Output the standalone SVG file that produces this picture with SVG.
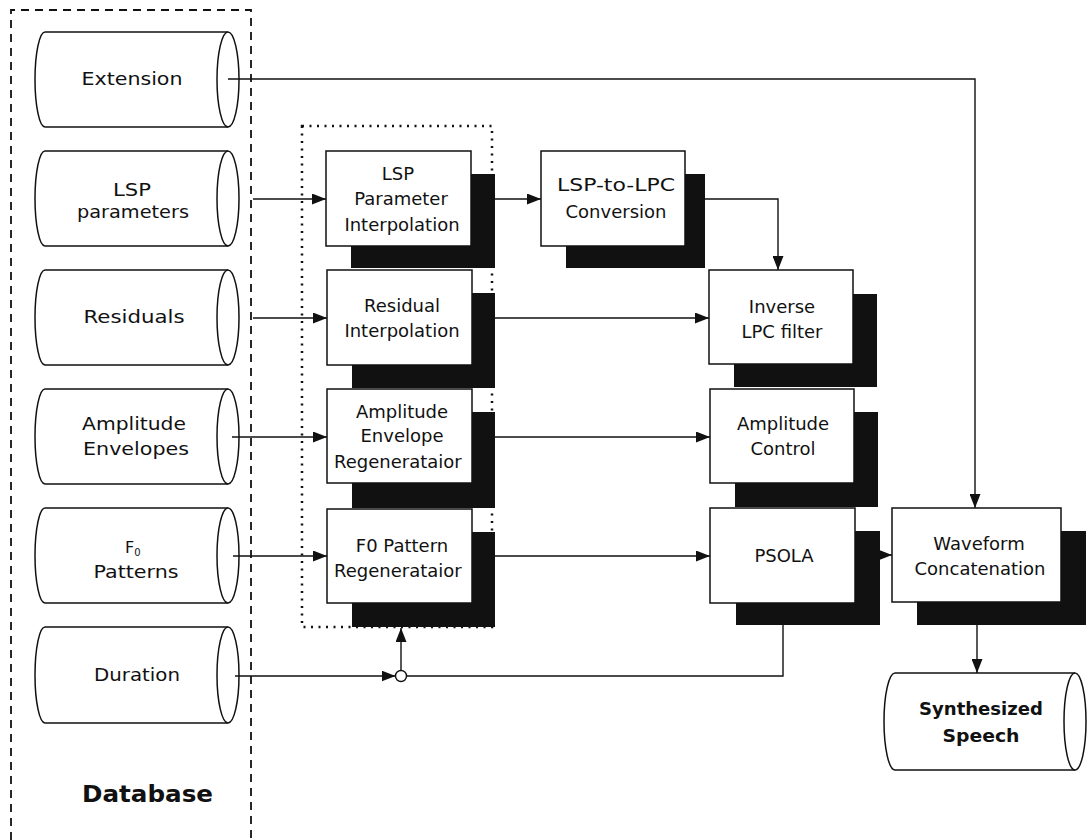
<svg xmlns="http://www.w3.org/2000/svg" width="1089" height="840" viewBox="0 0 1089 840">
  <style>
    .cyl { fill: #fff; stroke: #111; stroke-width: 1.5; }
    .box { fill: #fff; stroke: #111; stroke-width: 1.5; }
    .shadow { fill: #111; }
    .lbl { font-family: "DejaVu Sans", "Liberation Sans", sans-serif; font-size: 18px; fill: #111; }
    .blbl { font-family: "DejaVu Sans", "Liberation Sans", sans-serif; font-size: 17px; font-weight: bold; fill: #111; }
    .mid { text-anchor: middle; }
    .edge { fill: none; stroke: #111; stroke-width: 1.4; }
    .grp-db { fill: none; stroke: #111; stroke-width: 1.8; stroke-dasharray: 8 6; }
    .grp-proc { fill: none; stroke: #111; stroke-width: 2.5; stroke-dasharray: 2 5.5; }
  </style>
  <defs>
    <marker id="arrow" viewBox="0 0 14 11" refX="14" refY="5.5" markerWidth="14" markerHeight="11" markerUnits="userSpaceOnUse" orient="auto">
      <path d="M0,0 L14,5.5 L0,11 Z" fill="#111"/>
    </marker>
  </defs>
  <rect width="1089" height="840" fill="#fff"/>

  <!-- grouping frames -->
  <g id="database-frame">
    <path class="grp-db" d="M11,840 V10 H251 V840"/>
    <text class="lbl" x="82" y="802" style="font-size:23px;font-weight:bold" textLength="131" lengthAdjust="spacingAndGlyphs">Database</text>
  </g>
  <rect id="processing-frame" class="grp-proc" x="302" y="126" width="190" height="501"/>

  <!-- database cylinders -->
  <g id="db-extension">
    <path class="cyl" d="M45,32 H228 A11,47.5 0 0 1 228,127 H45 A10,47.5 0 0 1 45,32 Z"/>
    <path class="cyl" d="M228,32 A11,47.5 0 0 0 228,127"/>
    <text class="lbl mid" x="132" y="85" textLength="101" lengthAdjust="spacingAndGlyphs">Extension</text>
  </g>
  <g id="db-lsp">
    <path class="cyl" d="M45,151 H228 A11,47.5 0 0 1 228,246 H45 A10,47.5 0 0 1 45,151 Z"/>
    <path class="cyl" d="M228,151 A11,47.5 0 0 0 228,246"/>
    <text class="lbl mid" x="132" y="196" textLength="38" lengthAdjust="spacingAndGlyphs">LSP</text>
    <text class="lbl mid" x="133" y="218" textLength="112" lengthAdjust="spacingAndGlyphs">parameters</text>
  </g>
  <g id="db-residuals">
    <path class="cyl" d="M45,270 H228 A11,47.5 0 0 1 228,365 H45 A10,47.5 0 0 1 45,270 Z"/>
    <path class="cyl" d="M228,270 A11,47.5 0 0 0 228,365"/>
    <text class="lbl mid" x="134" y="323" textLength="101" lengthAdjust="spacingAndGlyphs">Residuals</text>
  </g>
  <g id="db-amplitude">
    <path class="cyl" d="M45,389 H228 A11,47.5 0 0 1 228,484 H45 A10,47.5 0 0 1 45,389 Z"/>
    <path class="cyl" d="M228,389 A11,47.5 0 0 0 228,484"/>
    <text class="lbl mid" x="134" y="430" textLength="104" lengthAdjust="spacingAndGlyphs">Amplitude</text>
    <text class="lbl mid" x="136" y="455" textLength="106" lengthAdjust="spacingAndGlyphs">Envelopes</text>
  </g>
  <g id="db-f0">
    <path class="cyl" d="M45,508 H228 A11,47.5 0 0 1 228,603 H45 A10,47.5 0 0 1 45,508 Z"/>
    <path class="cyl" d="M228,508 A11,47.5 0 0 0 228,603"/>
    <text class="lbl" x="125" y="553" style="font-size:16px">F<tspan dy="3" style="font-size:10px">0</tspan></text>
    <text class="lbl mid" x="136" y="578" textLength="85" lengthAdjust="spacingAndGlyphs">Patterns</text>
  </g>
  <g id="db-duration">
    <path class="cyl" d="M45,627 H228 A11,48 0 0 1 228,723 H45 A10,48 0 0 1 45,627 Z"/>
    <path class="cyl" d="M228,627 A11,48 0 0 0 228,723"/>
    <text class="lbl mid" x="137" y="681" textLength="86" lengthAdjust="spacingAndGlyphs">Duration</text>
  </g>

  <!-- processing blocks: shadow first, then the block -->
  <g id="lsp-interp">
    <rect class="shadow" x="351" y="174" width="144" height="94"/>
    <rect class="box" x="326" y="151" width="145" height="95"/>
    <text class="lbl mid" x="398" y="180">LSP</text>
    <text class="lbl mid" x="401" y="205">Parameter</text>
    <text class="lbl mid" x="402" y="231">Interpolation</text>
  </g>
  <g id="residual-interp">
    <rect class="shadow" x="352" y="293" width="143" height="95"/>
    <rect class="box" x="327" y="270" width="145" height="95"/>
    <text class="lbl mid" x="402" y="312">Residual</text>
    <text class="lbl mid" x="402" y="337">Interpolation</text>
  </g>
  <g id="amp-regen">
    <rect class="shadow" x="352" y="412" width="143" height="96"/>
    <rect class="box" x="327" y="389" width="145" height="94"/>
    <text class="lbl mid" x="402" y="418">Amplitude</text>
    <text class="lbl mid" x="402" y="442">Envelope</text>
    <text class="lbl" x="334" y="468">Regenerataior</text>
  </g>
  <g id="f0-regen">
    <rect class="shadow" x="352" y="532" width="143" height="95"/>
    <rect class="box" x="327" y="509" width="145" height="94"/>
    <text class="lbl mid" x="402" y="552">F0 Pattern</text>
    <text class="lbl" x="334" y="577">Regenerataior</text>
  </g>
  <g id="lsp-to-lpc">
    <rect class="shadow" x="566" y="174" width="139" height="94"/>
    <rect class="box" x="541" y="151" width="144" height="95"/>
    <text class="lbl mid" x="616" y="191" textLength="118" lengthAdjust="spacingAndGlyphs">LSP-to-LPC</text>
    <text class="lbl mid" x="616" y="218">Conversion</text>
  </g>
  <g id="inverse-lpc">
    <rect class="shadow" x="734" y="294" width="143" height="93"/>
    <rect class="box" x="709" y="270" width="144" height="94"/>
    <text class="lbl mid" x="782" y="313">Inverse</text>
    <text class="lbl mid" x="782" y="338">LPC filter</text>
  </g>
  <g id="amp-control">
    <rect class="shadow" x="735" y="412" width="143" height="95"/>
    <rect class="box" x="710" y="389" width="144" height="94"/>
    <text class="lbl mid" x="783" y="430">Amplitude</text>
    <text class="lbl mid" x="783" y="455">Control</text>
  </g>
  <g id="psola">
    <rect class="shadow" x="736" y="531" width="144" height="94"/>
    <rect class="box" x="710" y="508" width="145" height="95"/>
    <text class="lbl mid" x="784" y="562">PSOLA</text>
  </g>
  <g id="waveform-concat">
    <rect class="shadow" x="917" y="531" width="169" height="94"/>
    <rect class="box" x="892" y="508" width="169" height="94"/>
    <text class="lbl mid" x="979" y="550">Waveform</text>
    <text class="lbl mid" x="980" y="575">Concatenation</text>
  </g>
  <g id="synth-speech">
    <path class="cyl" d="M895,673 H1075 A11,48.5 0 0 1 1075,770 H895 A11,48.5 0 0 1 895,673 Z"/>
    <path class="cyl" d="M1075,673 A11,48.5 0 0 0 1075,770"/>
    <text class="blbl mid" x="981" y="715" textLength="124" lengthAdjust="spacingAndGlyphs">Synthesized</text>
    <text class="blbl mid" x="981" y="742" textLength="77" lengthAdjust="spacingAndGlyphs">Speech</text>
  </g>

  <!-- connectors -->
  <g id="connectors">
    <path class="edge" d="M228,79 H975 V508" marker-end="url(#arrow)"/>
    <path class="edge" d="M253,199 H326" marker-end="url(#arrow)"/>
    <path class="edge" d="M253,318 H327" marker-end="url(#arrow)"/>
    <path class="edge" d="M232,437 H327" marker-end="url(#arrow)"/>
    <path class="edge" d="M233,556 H327" marker-end="url(#arrow)"/>
    <path class="edge" d="M495,199 H541" marker-end="url(#arrow)"/>
    <path class="edge" d="M705,199 H778 V270" marker-end="url(#arrow)"/>
    <path class="edge" d="M495,318 H709" marker-end="url(#arrow)"/>
    <path class="edge" d="M495,437 H710" marker-end="url(#arrow)"/>
    <path class="edge" d="M495,556 H710" marker-end="url(#arrow)"/>
    <path class="edge" d="M880,555 H892" marker-end="url(#arrow)"/>
    <path class="edge" d="M977,625 V673" marker-end="url(#arrow)"/>
    <path class="edge" d="M235,676 H395.5" marker-end="url(#arrow)"/>
    <path class="edge" d="M401,670.5 V628" marker-end="url(#arrow)"/>
    <path class="edge" d="M783,625 V676 H406.5"/>
    <circle cx="401" cy="676" r="5.5" fill="#fff" stroke="#111" stroke-width="1.4"/>
  </g>
</svg>
